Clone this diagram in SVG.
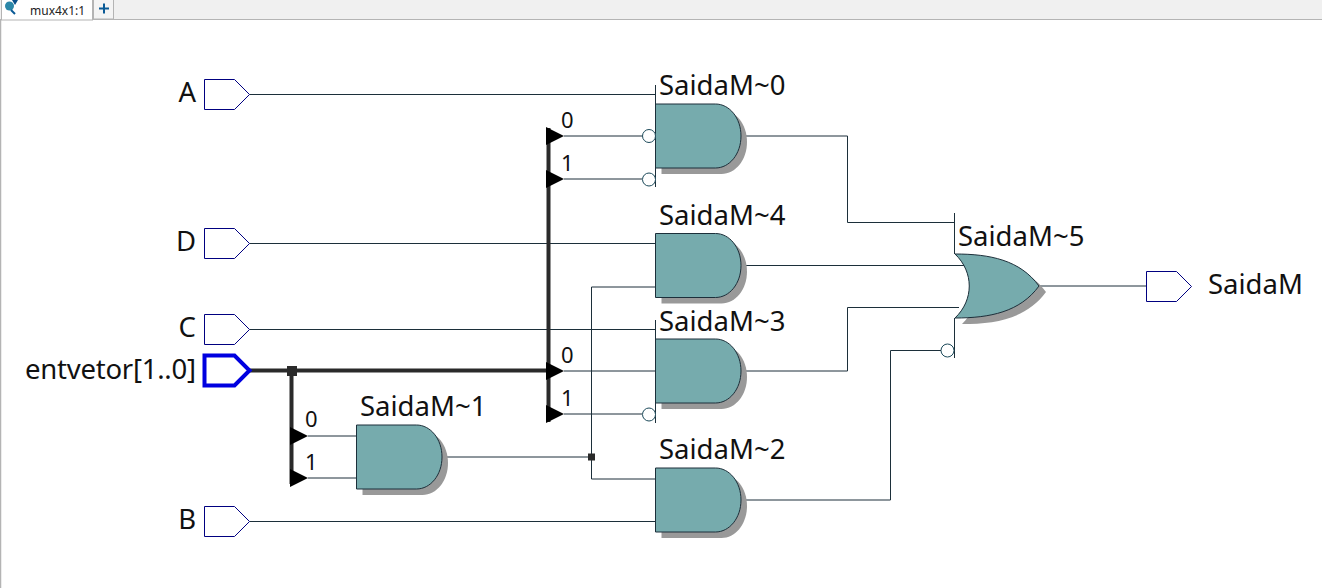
<svg xmlns="http://www.w3.org/2000/svg" width="1322" height="588" viewBox="0 0 1322 588">
<style>
text{font-family:"Noto Sans","Open Sans","DejaVu Sans",sans-serif;fill:#111}
.lbl{font-size:27.500px}
.idx{font-size:22px}
.tab{font-size:12px;fill:#222}
.w{fill:none;stroke:#1c2f3a;stroke-width:1}
.bus{fill:none;stroke:#2a2a2a;stroke-width:4}
.pin{fill:#fff;stroke:#000080;stroke-width:1}
.pinb{fill:#fff;stroke:#0000e0;stroke-width:4}
.gate{fill:#76abad;stroke:#1c2f3a;stroke-width:1}
.sh{fill:#999;stroke:none}
.bub{fill:#fff;stroke:#1c4a5a;stroke-width:1}
.tri{fill:#000}
.dot{fill:#2a2a2a}
</style>
<defs>
<g id="and"><path class="sh" transform="translate(6,6)" d="M0 0H60C74 0 85.500 14 85.500 32C85.500 50 74 64 60 64H0Z"/><path class="gate" d="M0 0H60C74 0 85.500 14 85.500 32C85.500 50 74 64 60 64H0Z"/></g>
<path id="pinshape" d="M0 -15H30L45 0L30 15H0Z"/>
<path id="tri" class="tri" d="M0 -9L18 0L0 9Z"/>
</defs>
<rect width="1322" height="588" fill="#fff"/>
<g id="tabbar">
<rect width="1322" height="19" fill="#f0f0f0"/>
<path d="M0 19.500H1322" stroke="#b4b4b4" fill="none"/>
<path d="M0.500 19V588" stroke="#b4b4b4" fill="none" stroke-width="1.500"/>
<rect x="1.500" y="-1" width="91" height="21" fill="#fff" stroke="#b4b4b4"/>
<rect x="93.500" y="-1" width="20" height="20" fill="#f4f4f4" stroke="#b4b4b4"/>
<path d="M99 8.500H109M104 3.500V13.500" stroke="#0a5a96" stroke-width="2" fill="none"/>
<circle cx="9.500" cy="6" r="4.500" fill="#2b87a8"/>
<path d="M11 10L15 14" stroke="#0a5a96" stroke-width="2"/>
<path d="M12 0H18L15 5Z" fill="#0a4f8a"/>
<text class="tab" x="30" y="15">mux4x1:1</text>
</g>
<g id="connectors">
<path class="w" d="M249.500 94.500H655.500M564 136H642M564 179H642M743 136H847.500V222.500H954.500"/>
<path class="w" d="M249.500 243.500H655.500M591.500 287H655.500V287M743 265.500H965M249.500 329.500H655.500M564 371H655.500M564 414H642"/>
<path class="w" d="M743 371H847.500V307.500H959M443 457H591.500M591.500 287V479H655.500M249.500 521.500H655.500M743 500H890.500V350.500H941"/>
<path class="w" d="M308 436H356.500M308 478H356.500M1039 286H1146"/>
<path class="bus" d="M249 370.500H548M548.500 128V422M291.500 370.500V484"/>
<rect class="dot" x="287" y="366" width="10" height="10"/>
<rect class="dot" x="588" y="453.500" width="7" height="7"/>
<use href="#tri" x="546" y="136"/><use href="#tri" x="546" y="179"/>
<use href="#tri" x="546" y="371"/><use href="#tri" x="546" y="414"/>
<use href="#tri" x="290" y="436"/><use href="#tri" x="290" y="478"/>
<text class="idx" x="561" y="128">0</text><text class="idx" x="561" y="171">1</text>
<text class="idx" x="561" y="363">0</text><text class="idx" x="561" y="406">1</text>
<text class="idx" x="305" y="427">0</text><text class="idx" x="305" y="470">1</text>
</g>
<g id="pin-A"><use href="#pinshape" class="pin" x="204.500" y="94.500"/><text class="lbl" x="196" y="102" text-anchor="end">A</text></g>
<g id="pin-D"><use href="#pinshape" class="pin" x="204.500" y="243.500"/><text class="lbl" x="196" y="251" text-anchor="end">D</text></g>
<g id="pin-C"><use href="#pinshape" class="pin" x="204.500" y="329.500"/><text class="lbl" x="196" y="337" text-anchor="end">C</text></g>
<g id="pin-entvetor"><use href="#pinshape" class="pinb" x="204.500" y="370.500"/><text class="lbl" x="196" y="379" text-anchor="end" textLength="171">entvetor[1..0]</text></g>
<g id="pin-B"><use href="#pinshape" class="pin" x="204.500" y="521.500"/><text class="lbl" x="196" y="529" text-anchor="end">B</text></g>
<g id="pin-SaidaM"><use href="#pinshape" class="pin" x="1146.500" y="286.500"/><text class="lbl" x="1208" y="294">SaidaM</text></g>
<g id="SaidaM0"><use href="#and" x="655.500" y="104"/><path class="w" d="M655.500 85V187"/><circle class="bub" cx="649" cy="136" r="6.500"/><circle class="bub" cx="649" cy="179.500" r="6.500"/><text class="lbl" x="659" y="95">SaidaM~0</text></g>
<g id="SaidaM4"><use href="#and" x="655.500" y="233.500"/><text class="lbl" x="659" y="225">SaidaM~4</text></g>
<g id="SaidaM3"><use href="#and" x="655.500" y="339"/><path class="w" d="M655.500 320V423"/><circle class="bub" cx="649" cy="414.500" r="6.500"/><text class="lbl" x="659" y="331">SaidaM~3</text></g>
<g id="SaidaM1"><use href="#and" x="356.500" y="425"/><text class="lbl" x="360" y="416">SaidaM~1</text></g>
<g id="SaidaM2"><use href="#and" x="655.500" y="468"/><text class="lbl" x="659" y="459">SaidaM~2</text></g>
<g id="SaidaM5">
<path class="sh" transform="translate(7,6)" d="M955 254C990 254 1020 260 1039 286C1020 312 990 318 955 318C974 300 974 272 955 254Z"/>
<path class="gate" d="M955 254C990 254 1020 260 1039 286C1020 312 990 318 955 318C974 300 974 272 955 254Z"/>
<path class="w" d="M954.500 213V254M954.500 318V358"/>
<circle class="bub" cx="947.500" cy="350.500" r="6.500"/>
<text class="lbl" x="958" y="246">SaidaM~5</text>
</g>
</svg>
